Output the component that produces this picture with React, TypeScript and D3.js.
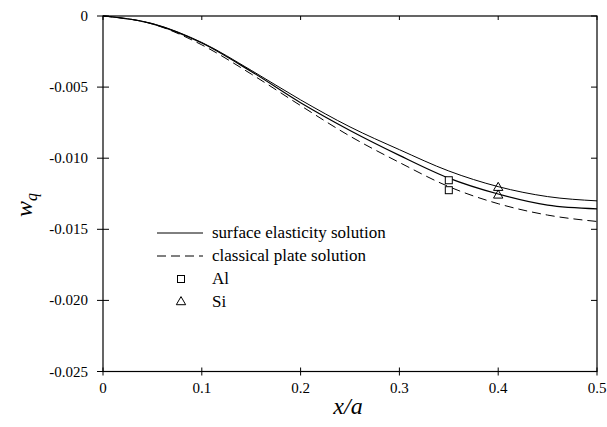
import React from "react";
import * as d3 from "d3";

const xValues = [0, 0.05, 0.1, 0.15, 0.2, 0.25, 0.3, 0.35, 0.4, 0.45, 0.5];
const surfaceUpper = [0, -0.00053, -0.00186, -0.00382, -0.0059, -0.0078, -0.0094, -0.0109, -0.012, -0.0127, -0.013];
const surfaceLower = [0, -0.00055, -0.0019, -0.0039, -0.0061, -0.00805, -0.0098, -0.0114, -0.01252, -0.0133, -0.01356];
const classical = [0, -0.00056, -0.00203, -0.00408, -0.0063, -0.00845, -0.0103, -0.012, -0.0132, -0.014, -0.01445];
const alX = [0.35, 0.35];
const alY = [-0.01155, -0.01225];
const siX = [0.4, 0.4];
const siY = [-0.01204, -0.01258];
const xTicks = [0, 0.1, 0.2, 0.3, 0.4, 0.5];
const yTicks = [0, -0.005, -0.01, -0.015, -0.02, -0.025];
const yTickLabels = ["0", "-0.005", "-0.010", "-0.015", "-0.020", "-0.025"];
const legendLabels = ["surface elasticity solution", "classical plate solution", "Al", "Si"];

const W = 607, H = 427;
const L = 103, R = 597, T = 16, B = 371.5;

export default function App() {
  const x = d3.scaleLinear().domain([0, 0.5]).range([L, R]);
  const y = d3.scaleLinear().domain([0, -0.025]).range([T, B]);
  const line = d3
    .line<number>()
    .x((_, i) => x(xValues[i]))
    .y((d) => y(d))
    .curve(d3.curveMonotoneX);
  const tri = d3.symbol().type(d3.symbolTriangle).size(38)() as string;

  const legY = [238, 261, 284, 307];
  return (
    <svg
      width={W}
      height={H}
      style={{ position: "absolute", left: 0, top: 0, background: "#fff", fontFamily: '"Liberation Serif", "DejaVu Serif", serif' }}
    >
      <rect x={L} y={T} width={R - L} height={B - T} fill="none" stroke="#000" strokeWidth={1.2} />
      {xTicks.map((t) => (
        <g key={"x" + t}>
          <line x1={x(t)} x2={x(t)} y1={B - 4} y2={B + 4} stroke="#000" />
          <line x1={x(t)} x2={x(t)} y1={T} y2={T + 4} stroke="#000" />
          <text x={x(t)} y={393} fontSize={15} textAnchor="middle">
            {String(t)}
          </text>
        </g>
      ))}
      {yTicks.map((t, i) => (
        <g key={"y" + t}>
          <line x1={L - 6} x2={L + 6} y1={y(t)} y2={y(t)} stroke="#000" />
          <line x1={R - 6} x2={R} y1={y(t)} y2={y(t)} stroke="#000" />
          <text x={88} y={y(t) + 5} fontSize={15} textAnchor="end">
            {yTickLabels[i]}
          </text>
        </g>
      ))}
      <path d={line(surfaceUpper) as string} fill="none" stroke="#000" strokeWidth={1} />
      <path d={line(surfaceLower) as string} fill="none" stroke="#000" strokeWidth={1.2} />
      <path d={line(classical) as string} fill="none" stroke="#000" strokeWidth={1} strokeDasharray="9,5" />
      {alX.map((v, i) => (
        <rect key={"al" + i} x={x(v) - 3.5} y={y(alY[i]) - 3.5} width={7} height={7} fill="#fff" stroke="#000" />
      ))}
      {siX.map((v, i) => (
        <path key={"si" + i} d={tri} transform={`translate(${x(v)},${y(siY[i]) + 0.5})`} fill="none" stroke="#000" />
      ))}
      <line x1={157} x2={203} y1={legY[0] - 5} y2={legY[0] - 5} stroke="#000" />
      <line x1={157} x2={203} y1={legY[1] - 5} y2={legY[1] - 5} stroke="#000" strokeDasharray="9,5" />
      <rect x={177.5} y={legY[2] - 8.5} width={7} height={7} fill="#fff" stroke="#000" />
      <path d={tri} transform={`translate(181,${legY[3] - 5})`} fill="none" stroke="#000" />
      {legendLabels.map((s, i) => (
        <text key={s} x={212} y={legY[i]} fontSize={17}>
          {s}
        </text>
      ))}
      <text x={348} y={414} fontSize={24} fontStyle="italic" textAnchor="middle">
        x/a
      </text>
      <text transform="translate(32,205) rotate(-90)" fontSize={24} fontStyle="italic" textAnchor="middle">
        w<tspan fontSize={16} dy={5}>q</tspan>
      </text>
    </svg>
  );
}
